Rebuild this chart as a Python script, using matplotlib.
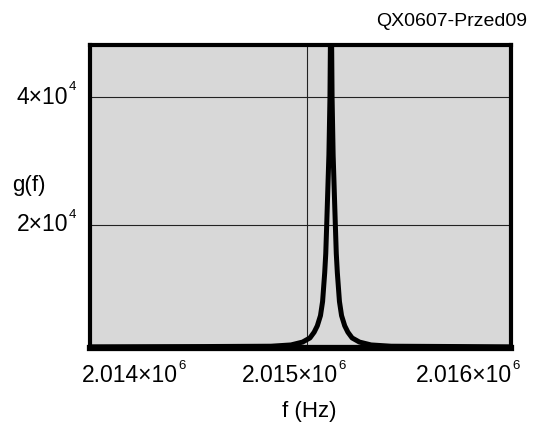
import numpy as np
import matplotlib
matplotlib.use("Agg")
import matplotlib.pyplot as plt
import matplotlib.transforms as mtransforms

plt.rcParams['font.family'] = ['Liberation Sans', 'DejaVu Sans']

# resonance curve (offset from centre in Hz, g value)
f0 = 2015146.0
df = [0, 5, 10, 20, 25, 30, 40, 50, 65, 80, 100, 135, 190, 285, 600]
g_half = [60000, 40000, 31000, 20500, 15500, 12500, 8000, 5800, 4200, 3200,
          2300, 1650, 1200, 1000, 950]
f_lo, f_hi = 2.014e6, 2.016e6
g_end = 900

x_ticks = [2.014e6, 2.015e6, 2.016e6]
x_mant = ['2.014×10', '2.015×10', '2.016×10']
x_exp = ['6', '6', '6']
y_ticks = [2e4, 4e4]
y_mant = ['2×10', '4×10']
y_exp = ['4', '4']
grid_f = 2015032.0
y_lo, y_hi = 800, 48265

df = np.array(df, dtype=float)
g_half = np.array(g_half, dtype=float)
f = np.concatenate([[f_lo], f0 - df[::-1], f0 + df[1:], [f_hi]])
g = np.concatenate([[g_end], g_half[::-1], g_half[1:], [g_end]])

fig = plt.figure(figsize=(5.34, 4.26), dpi=100)
ax = fig.add_axes([89.5/534, 1-347.5/426, (511-89.5)/534, (347.5-44.5)/426])
ax.set_facecolor('#d8d8d8')

ax.axvline(grid_f, color='#222222', lw=0.8, zorder=1)
for yv in y_ticks:
    ax.axhline(yv, color='#222222', lw=0.8, zorder=1)

ax.plot(f, g, color='black', lw=3.6, solid_joinstyle='round', zorder=3)

ax.set_xlim(f_lo, f_hi)
ax.set_ylim(y_lo, y_hi)
ax.set_xticks([])
ax.set_yticks([])


def sci_label(x, y, trans, dx, dy, mant, exp, ha):
    off = mtransforms.ScaledTranslation(dx/100, dy/100, fig.dpi_scale_trans)
    t = ax.text(x, y, mant, transform=trans + off, fontsize=16.5, ha=ha, va='center')
    ax.annotate(exp, xy=(1, 1), xycoords=t, xytext=(0.2, 3.5),
                textcoords='offset points', fontsize=9.5, ha='left', va='top')


# tick labels placed like the original plot (ends aligned to the frame)
xtr = ax.get_xaxis_transform()
aligns = ['left', 'center', 'right']
shifts = [-7.5, -10, 1]
for xv, m, e, ha, sh in zip(x_ticks, x_mant, x_exp, aligns, shifts):
    sci_label(xv, 0, xtr, sh, -28.5, m, e, ha)
ytr = ax.get_yaxis_transform()
for yv, m, e in zip(y_ticks, y_mant, y_exp):
    sci_label(0, yv, ytr, -21.5, 0, m, e, 'right')

for s in ax.spines.values():
    s.set_linewidth(3)
    s.set_color('black')
ax.spines['bottom'].set_linewidth(4.5)

fig.text(309/534, 1-411/426, 'f (Hz)', fontsize=16, ha='center', va='center')
fig.text(12/534, 1-186/426, 'g(f)', fontsize=16, ha='left', va='center')
fig.text(527/534, 1-21/426, 'QX0607-Przed09', fontsize=14, ha='right', va='center')

fig.savefig('out.png', dpi=100)
